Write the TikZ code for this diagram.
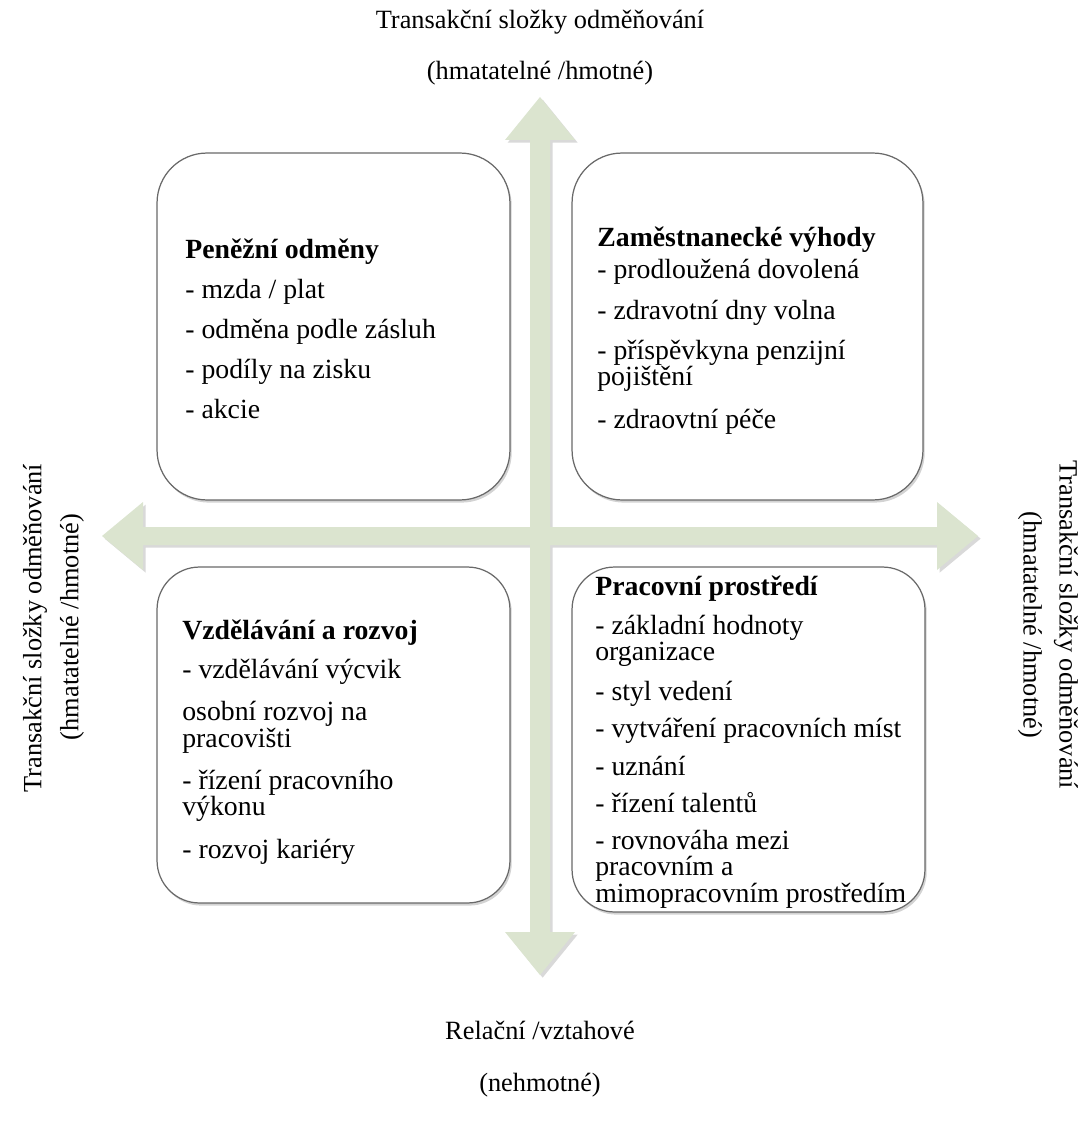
\documentclass[tikz,border=0pt]{standalone}
\usepackage{fontspec}
\setmainfont{Liberation Serif}
\usetikzlibrary{shadows}
\definecolor{arrowgreen}{RGB}{219,228,207}
\definecolor{boxline}{RGB}{105,105,105}
\newcommand\quadfont{\fontsize{15.8}{15}\selectfont\lineskiplimit=-30pt\relax}

\begin{document}
\begin{tikzpicture}[x=0.02cm,y=-0.02cm]
	\tikzset{quad/.style = {draw=boxline, line width=0.7pt, fill=white, rounded corners=1cm, drop shadow={shadow xshift=1pt, shadow yshift=-1.5pt, opacity=0.35}},
		itemtext/.style = {anchor=base west, align=left, inner sep=0pt, font=\quadfont},
		axislabel/.style = {inner sep=0pt, font=\fontsize{15}{18}\selectfont}}

	\useasboundingbox (0,0) rectangle (1081,1138);

	% the two block arrows
	\fill[arrowgreen, drop shadow={shadow xshift=1.5pt, shadow yshift=-1.5pt, opacity=0.3}]
		(540,97) -- (575,140) -- (550,140) -- (550,932) -- (575,932) -- (540,975) -- (505,932) -- (530,932) -- (530,140) -- (505,140) -- cycle
		(102,536) -- (143,502) -- (143,527) -- (937,527) -- (937,502) -- (978,536) -- (937,570) -- (937,545) -- (143,545) -- (143,570) -- cycle;

	\node[quad, minimum width=7.06cm, minimum height=6.94cm] (Q_1) at (333.5,326.5) {};
	\node[quad, minimum width=7.02cm, minimum height=6.94cm] (Q_2) at (747.5,326.5) {};
	\node[quad, minimum width=7.06cm, minimum height=6.72cm, rounded corners=0.85cm] (Q_3) at (333.5,735) {};
	\node[quad, minimum width=7.06cm, minimum height=6.90cm, rounded corners=0.85cm] (Q_4) at (748.5,739.5) {};

	% base of a multi-line node = its last line
	\node[itemtext] (T_1) at (185,418) {\textbf{Peněžní odměny}\\[7.7pt]
		- mzda / plat\\[7.7pt]
		- odměna podle zásluh\\[7.7pt]
		- podíly na zisku\\[7.7pt]
		- akcie};
	\node[itemtext] (T_2) at (597,428) {\textbf{Zaměstnanecké výhody}\\[3pt]
		- prodloužená dovolená\\[8.5pt]
		- zdravotní dny volna\\[7.7pt]
		- příspěvkyna penzijní\\
		pojištění\\[9pt]
		- zdraovtní péče};
	\node[itemtext] (T_3) at (182,858) {\textbf{Vzdělávání a rozvoj}\\[7.5pt]
		- vzdělávání výcvik\\[9pt]
		osobní rozvoj na\\
		pracovišti\\[9pt]
		- řízení pracovního\\
		výkonu\\[9pt]
		- rozvoj kariéry};
	\node[itemtext] (T_4) at (595,902) {\textbf{Pracovní prostředí}\\[7pt]
		- základní hodnoty\\
		organizace\\[8pt]
		- styl vedení\\[6pt]
		- vytváření pracovních míst\\[6.5pt]
		- uznání\\[6pt]
		- řízení talentů\\[6pt]
		- rovnováha mezi\\
		pracovním a\\
		mimopracovním prostředím};

	\node[axislabel] (L_top1) at (540,22) {Transakční složky odměňování};
	\node[axislabel] (L_top2) at (540,73) {(hmatatelné /hmotné)};
	\node[axislabel, rotate=90] (L_left1) at (35,628) {Transakční složky odměňování};
	\node[axislabel, rotate=90] (L_left2) at (72,627) {(hmatatelné /hmotné)};
	\node[axislabel, rotate=-90] (L_right1) at (1066,625) {Transakční složky odměňování};
	\node[axislabel, rotate=-90] (L_right2) at (1030,625) {(hmatatelné /hmotné)};
	\node[axislabel] (L_bot1) at (540,1030) {Relační /vztahové};
	\node[axislabel] (L_bot2) at (540,1085) {(nehmotné)};

\end{tikzpicture}
\end{document}
